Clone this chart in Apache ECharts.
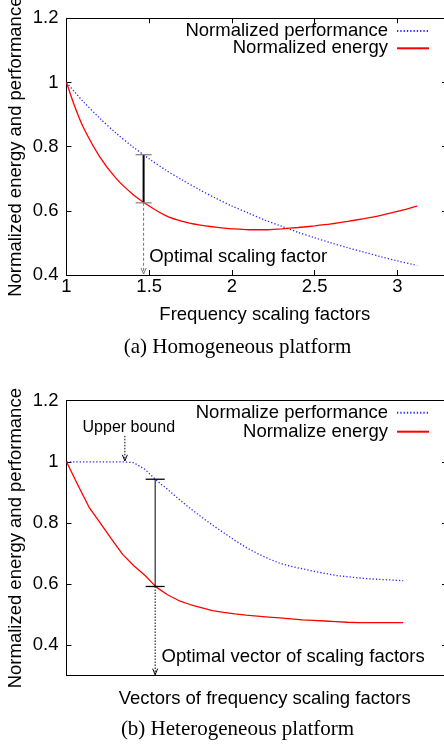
<!DOCTYPE html>
<html>
<head>
<meta charset="UTF-8">
<title>Normalized energy and performance</title>
<script src="https://cdn.jsdelivr.net/npm/echarts@6/dist/echarts.min.js"></script>
<style>
  html, body { margin: 0; padding: 0; background: #fff; }
  #main { width: 444px; height: 748px; }
</style>
</head>
<body>
<div id="main"></div>
<script>
// (a) homogeneous platform
var freqFactors = [1.0, 1.05, 1.1, 1.2, 1.3, 1.4, 1.5, 1.6, 1.7, 1.8, 1.9, 2.0, 2.1, 2.2, 2.3, 2.4, 2.5, 2.6, 2.7, 2.8, 2.9, 3.0, 3.1, 3.12];
var perfHomo = [1.000, 0.970, 0.941, 0.889, 0.842, 0.800, 0.762, 0.727, 0.696, 0.667, 0.640, 0.615, 0.593, 0.571, 0.552, 0.533, 0.516, 0.500, 0.485, 0.471, 0.457, 0.444, 0.432, 0.430];
var energyHomo = [1.000, 0.925, 0.862, 0.769, 0.701, 0.652, 0.615, 0.585, 0.567, 0.556, 0.549, 0.544, 0.541, 0.541, 0.544, 0.548, 0.553, 0.559, 0.567, 0.576, 0.586, 0.598, 0.612, 0.615];
var optimalHomo = [1.466, 0.625, 0.775];   // x, energy, performance

// (b) heterogeneous platform
var vectorIndex = [0, 1, 2, 3, 4, 5, 6, 7, 8, 9, 10, 11, 12, 13, 14, 15, 16, 17, 18, 19, 20, 21, 22, 23, 24, 25, 26, 27, 28, 29, 30];
var perfHetero = [1.0, 1.0, 1.0, 1.0, 1.0, 1.0, 0.997, 0.975, 0.94, 0.91, 0.878, 0.848, 0.82, 0.793, 0.768, 0.743, 0.72, 0.7, 0.683, 0.668, 0.658, 0.65, 0.642, 0.635, 0.628, 0.624, 0.62, 0.617, 0.615, 0.613, 0.611];
var energyHetero = [1.0, 0.925, 0.852, 0.8, 0.748, 0.697, 0.66, 0.628, 0.59, 0.565, 0.546, 0.533, 0.523, 0.513, 0.507, 0.502, 0.498, 0.495, 0.492, 0.489, 0.486, 0.483, 0.481, 0.479, 0.477, 0.475, 0.474, 0.474, 0.474, 0.474, 0.474];
var optimalHetero = [7.9, 0.592, 0.943];
var upperBound = [5.2, 1.085, 1.0];

var yTicksHomo = [0.4, 1.2, 0.2];   // min, max, step
var yRangeHetero = [0.3, 1.2];

var FONT = 'Liberation Sans, Arial, sans-serif';
var SERIF = 'Liberation Serif, Times New Roman, serif';
var BLUE = '#2b2bff';
var RED = '#ff0000';
var Y_NAME = 'Normalized energy and performance';

function pairs(xs, ys) {
  var out = [];
  for (var i = 0; i < xs.length; i++) out.push([xs[i], ys[i]]);
  return out;
}
function tenth(v) { return String(Math.round(v * 10) / 10); }

// 误差条
function errorBar(capColor, stemWidth, capHalf) {
  return function (params, api) {
    var hi = api.coord([api.value(0), api.value(2)]);
    var lo = api.coord([api.value(0), api.value(1)]);
    return {
      type: 'group',
      children: [
        { type: 'line', shape: { x1: hi[0], y1: hi[1], x2: lo[0], y2: lo[1] }, style: { stroke: '#000', lineWidth: stemWidth } },
        { type: 'line', shape: { x1: hi[0] - capHalf, y1: hi[1], x2: hi[0] + capHalf, y2: hi[1] }, style: { stroke: capColor, lineWidth: 1.3 } },
        { type: 'line', shape: { x1: lo[0] - capHalf, y1: lo[1], x2: lo[0] + capHalf, y2: lo[1] }, style: { stroke: capColor, lineWidth: 1.3 } }
      ]
    };
  };
}
// 箭头
function arrow(color, dash) {
  return function (params, api) {
    var a = api.coord([api.value(0), api.value(1)]);
    var b = api.coord([api.value(0), api.value(2)]);
    return {
      type: 'group',
      children: [
        { type: 'line', shape: { x1: a[0], y1: a[1], x2: b[0], y2: b[1] - 1 }, style: { stroke: color, lineWidth: 1, lineDash: dash } },
        { type: 'polyline', shape: { points: [[b[0] - 2.5, b[1] - 7], [b[0], b[1] - 1], [b[0] + 2.5, b[1] - 7]] }, style: { stroke: color, lineWidth: 1, fill: null } }
      ]
    };
  };
}
function note(text, size) {
  return function (params, api) {
    var p = api.coord([api.value(0), api.value(1)]);
    return {
      type: 'text', x: p[0], y: p[1],
      style: { text: text, fill: '#000', fontSize: size, fontFamily: FONT, align: 'left', verticalAlign: 'middle', textAlign: 'left', textVerticalAlign: 'middle' }
    };
  };
}

var labelStyle = { fontSize: 18.5, fontFamily: FONT, color: '#000' };
var axisLine = { show: true, onZero: false, lineStyle: { color: '#000', width: 1 } };
var tickIn = { show: true, inside: true, length: 5, lineStyle: { color: '#000', width: 1 } };

function legendItem(name, top) {
  return {
    data: [name], right: 14, top: top, orient: 'vertical', align: 'right', padding: 0,
    itemWidth: 32, itemHeight: 10, selectedMode: false,
    itemStyle: { opacity: 0 },
    textStyle: { fontSize: 18.5, fontFamily: FONT, color: '#000', lineHeight: 20, padding: [0, 4, 0, 0] }
  };
}

var myChart = echarts.init(document.getElementById('main'), null, { renderer: 'canvas' });
var option = {
  animation: false,
  backgroundColor: '#fff',
  grid: [
    { left: 66.5, right: -3, top: 18.3, bottom: 473, containLabel: false, outerBoundsMode: 'none' },
    { left: 66.5, right: -3, top: 400.7, bottom: 72.3, containLabel: false, outerBoundsMode: 'none' }
  ],
  legend: [
    legendItem('Normalized performance', 21),
    legendItem('Normalized energy', 38.3),
    legendItem('Normalize performance', 402.7),
    legendItem('Normalize energy', 421.7)
  ],
  xAxis: [
    { gridIndex: 0, type: 'value', min: 1, max: 3.3, interval: 0.5, position: 'bottom',
      axisLine: axisLine, axisTick: tickIn, splitLine: { show: false },
      axisLabel: Object.assign({ margin: 2, formatter: function (v) { return v > 3.05 ? '' : String(v); } }, labelStyle),
      name: 'Frequency scaling factors', nameLocation: 'middle', nameGap: 30,
      nameTextStyle: { fontSize: 18.5, fontFamily: FONT, color: '#000', lineHeight: 20, padding: [0, 0, 0, 16] } },
    { gridIndex: 0, type: 'value', min: 1, max: 3.3, interval: 0.5, position: 'top',
      axisLine: axisLine, axisTick: tickIn, splitLine: { show: false }, axisLabel: { show: false } },
    { gridIndex: 1, type: 'value', min: 0, max: 33.9, position: 'bottom',
      axisLine: axisLine, axisTick: { show: false }, splitLine: { show: false }, axisLabel: { show: false },
      name: 'Vectors of frequency scaling factors', nameLocation: 'middle', nameGap: 13,
      nameTextStyle: { fontSize: 18.5, fontFamily: FONT, color: '#000', lineHeight: 20, padding: [0, 0, 0, 16] } },
    { gridIndex: 1, type: 'value', min: 0, max: 33.9, position: 'top',
      axisLine: axisLine, axisTick: { show: false }, splitLine: { show: false }, axisLabel: { show: false } }
  ],
  yAxis: [
    { gridIndex: 0, type: 'value', min: yTicksHomo[0], max: yTicksHomo[1], interval: yTicksHomo[2], position: 'left',
      axisLine: axisLine, axisTick: tickIn, splitLine: { show: false },
      axisLabel: Object.assign({ margin: 8, formatter: tenth }, labelStyle) },
    { gridIndex: 0, type: 'value', min: yTicksHomo[0], max: yTicksHomo[1], interval: yTicksHomo[2], position: 'right',
      axisLine: axisLine, axisTick: tickIn, splitLine: { show: false }, axisLabel: { show: false } },
    { gridIndex: 1, type: 'value', min: yRangeHetero[0], max: yRangeHetero[1], splitNumber: 5, position: 'left',
      axisLine: axisLine, axisTick: tickIn, splitLine: { show: false },
      axisLabel: Object.assign({ margin: 8, formatter: function (v) { return v < 0.35 ? '' : tenth(v); } }, labelStyle) },
    { gridIndex: 1, type: 'value', min: yRangeHetero[0], max: yRangeHetero[1], splitNumber: 5, position: 'right',
      axisLine: axisLine, axisTick: tickIn, splitLine: { show: false }, axisLabel: { show: false } }
  ],
  series: [
    { name: 'Normalized performance', type: 'line', xAxisIndex: 0, yAxisIndex: 0, data: pairs(freqFactors, perfHomo),
      symbol: 'none', smooth: 0.3, color: BLUE, lineStyle: { color: BLUE, width: 1.3, type: [1.3, 2] } },
    { name: 'Normalized energy', type: 'line', xAxisIndex: 0, yAxisIndex: 0, data: pairs(freqFactors, energyHomo),
      symbol: 'none', smooth: 0.3, color: RED, lineStyle: { color: RED, width: 1.3 } },
    { type: 'custom', xAxisIndex: 0, yAxisIndex: 0, data: [[optimalHomo[0], optimalHomo[1], yTicksHomo[0]]], renderItem: arrow('#777', [3, 2]), z: 3 },
    { type: 'custom', xAxisIndex: 0, yAxisIndex: 0, data: [optimalHomo], renderItem: errorBar('#888', 2, 8), z: 4 },
    { type: 'custom', xAxisIndex: 0, yAxisIndex: 0, data: [[1.5, 0.456]], renderItem: note('Optimal scaling factor', 18.5) },

    { name: 'Normalize performance', type: 'line', xAxisIndex: 2, yAxisIndex: 2, data: pairs(vectorIndex, perfHetero),
      symbol: 'none', color: BLUE, lineStyle: { color: BLUE, width: 1.3, type: [1.3, 2] } },
    { name: 'Normalize energy', type: 'line', xAxisIndex: 2, yAxisIndex: 2, data: pairs(vectorIndex, energyHetero),
      symbol: 'none', color: RED, lineStyle: { color: RED, width: 1.3 } },
    { type: 'custom', xAxisIndex: 2, yAxisIndex: 2, data: [[optimalHetero[0], optimalHetero[1], yRangeHetero[0]]], renderItem: arrow('#000', [1.5, 1.5]), z: 3 },
    { type: 'custom', xAxisIndex: 2, yAxisIndex: 2, data: [upperBound], renderItem: arrow('#000', [1.5, 1.5]), z: 3 },
    { type: 'custom', xAxisIndex: 2, yAxisIndex: 2, data: [optimalHetero], renderItem: errorBar('#000', 1, 9.5), z: 4 },
    { type: 'custom', xAxisIndex: 2, yAxisIndex: 2, data: [[8.47, 0.36]], renderItem: note('Optimal vector of scaling factors', 18.5) },
    { type: 'custom', xAxisIndex: 2, yAxisIndex: 2, data: [[1.43, 1.112]], renderItem: note('Upper bound', 16) }
  ],
  graphic: [
    // 纵轴标题
    { type: 'text', x: 16, y: 146.7, rotation: Math.PI / 2, style: { text: Y_NAME, fontSize: 18.5, fontFamily: FONT, fill: '#000', align: 'center', verticalAlign: 'middle' } },
    { type: 'text', x: 16, y: 538.2, rotation: Math.PI / 2, style: { text: Y_NAME, fontSize: 18.5, fontFamily: FONT, fill: '#000', align: 'center', verticalAlign: 'middle' } },
    { type: 'text', x: 237.5, y: 347, style: { text: '(a) Homogeneous platform', fontSize: 21, fontFamily: SERIF, fill: '#000', align: 'center', verticalAlign: 'middle' } },
    { type: 'text', x: 237.5, y: 729, style: { text: '(b) Heterogeneous platform', fontSize: 21, fontFamily: SERIF, fill: '#000', align: 'center', verticalAlign: 'middle' } }
  ]
};
myChart.setOption(option);
</script>
</body>
</html>
